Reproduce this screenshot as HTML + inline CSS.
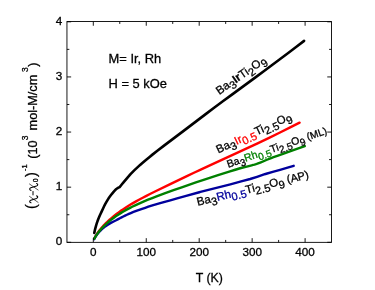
<!DOCTYPE html>
<html><head><meta charset="utf-8"><style>
html,body{margin:0;padding:0;background:#fff;}
svg{display:block;font-family:"Liberation Sans",sans-serif;}
</style></head><body>
<svg width="375" height="290" viewBox="0 0 375 290" style="will-change:transform">
<defs><filter id="gs" filterUnits="userSpaceOnUse" x="0" y="0" width="375" height="290"><feOffset dx="0" dy="0"/></filter></defs>
<rect width="375" height="290" fill="#fff"/>
<g fill="none" stroke-linecap="round" stroke-linejoin="round">
<path d="M94.28,233.04 L94.73,230.83 L95.18,228.89 L95.66,227.07 L96.23,225.08 L96.91,222.96 L97.48,221.30 L98.33,219.02 L99.04,217.27 L99.80,215.49 L100.61,213.69 L101.49,211.86 L103.07,208.42 L104.09,206.30 L104.80,204.87 L105.17,204.16 L106.30,202.14 L107.50,200.12 L108.74,198.09 L109.17,197.47 L110.05,196.29 L111.41,194.53 L112.35,193.36 L113.80,191.67 L115.83,189.44 L116.35,188.97 L117.41,188.25 L117.95,187.94 L119.62,187.11 L120.18,186.45 L121.92,184.27 L123.71,182.08 L129.42,175.43 L130.76,173.91 L134.22,170.43 L136.37,168.37 L139.32,165.62 L140.08,164.93 L142.37,162.94 L144.73,160.93 L147.14,158.92 L149.61,156.90 L152.13,154.87 L157.35,150.77 L163.72,145.89 L183.61,130.89 L206.01,113.85 L214.44,107.52 L223.18,101.03 L230.91,95.35 L255.46,77.40 L264.09,71.04 L271.45,65.57 L280.50,58.81 L288.21,53.00 L296.08,47.02 L304.10,40.87" stroke="#000" stroke-width="2.6"/>
<path d="M94.15,238.65 L94.93,237.23 L95.63,236.02 L96.38,234.80 L97.09,233.71 L97.90,232.53 L98.81,231.28 L99.81,229.96 L100.63,228.94 L101.81,227.54 L102.75,226.47 L103.75,225.38 L104.81,224.27 L105.92,223.14 L107.09,222.00 L108.31,220.86 L109.59,219.70 L110.92,218.53 L112.31,217.36 L113.75,216.18 L115.25,214.99 L116.80,213.80 L118.41,212.60 L121.21,210.60 L122.97,209.40 L124.78,208.19 L126.64,206.98 L128.56,205.78 L130.54,204.57 L132.57,203.35 L136.08,201.34 L138.99,199.72 L142.77,197.70 L145.91,196.08 L149.97,194.03 L155.04,191.54 L168.68,184.95 L186.88,176.10 L194.49,172.47 L201.25,169.31 L208.23,166.10 L226.66,157.70 L237.04,152.93 L247.82,147.92 L257.58,143.33 L269.10,137.82 L279.49,132.74 L290.19,127.43 L299.60,122.66" stroke="#ff0000" stroke-width="2.4"/>
<path d="M94.15,239.15 L94.58,238.33 L95.11,237.39 L95.72,236.41 L96.32,235.53 L97.01,234.58 L97.59,233.84 L98.45,232.80 L99.15,232.00 L100.17,230.91 L101.00,230.07 L101.89,229.23 L102.82,228.38 L103.82,227.53 L104.86,226.67 L105.22,226.40 L106.33,225.64 L107.50,224.89 L108.73,224.14 L110.00,223.40 L111.33,222.67 L113.67,221.46 L116.15,220.26 L118.25,219.09 L119.88,218.22 L121.57,217.35 L123.31,216.48 L125.10,215.61 L126.95,214.75 L128.85,213.89 L130.80,213.04 L133.49,211.97 L136.99,210.65 L139.16,209.86 L142.13,208.81 L145.20,207.77 L148.37,206.73 L149.98,206.21 L153.29,205.21 L159.31,203.45 L163.79,202.19 L170.30,200.41 L177.11,198.43 L185.25,196.13 L199.29,192.25 L200.41,191.95 L220.39,186.89 L230.38,184.33 L242.08,181.20 L250.15,179.00 L257.04,176.77 L264.07,174.45 L265.50,174.01 L272.71,171.96 L280.07,169.83 L287.58,167.62 L293.70,165.79" stroke="#00009c" stroke-width="2.4"/>
<path d="M94.15,238.77 L95.96,235.88 L96.79,234.64 L97.57,233.54 L98.45,232.36 L99.43,231.11 L100.51,229.81 L101.39,228.81 L102.64,227.44 L103.65,226.40 L104.71,225.34 L105.83,224.28 L107.42,222.84 L108.67,221.76 L109.98,220.68 L111.35,219.59 L112.77,218.51 L114.25,217.42 L115.78,216.34 L117.38,215.26 L119.02,214.18 L120.73,213.11 L122.49,212.04 L124.31,210.97 L126.18,209.92 L128.11,208.87 L130.10,207.82 L132.15,206.78 L135.68,205.07 L137.87,204.06 L140.13,203.05 L144.00,201.38 L148.04,199.73 L152.23,198.08 L156.58,196.43 L163.87,193.73 L173.54,190.22 L181.73,187.29 L188.13,185.05 L195.89,182.41 L205.14,179.36 L217.26,175.46 L230.01,171.40 L235.28,169.74 L239.31,168.52 L242.02,167.76 L244.76,167.04 L251.71,165.33 L253.12,164.95 L254.54,164.54 L255.96,164.09 L257.39,163.60 L258.83,163.07 L260.27,162.51 L267.57,159.49 L270.53,158.31 L273.52,157.19 L278.05,155.57 L291.99,150.67 L298.34,148.40 L304.80,146.05" stroke="#008000" stroke-width="2.4"/>
</g>
<g stroke="#000" stroke-width="0.9" fill="none">
<rect x="66.95" y="21.55" width="264.5" height="220.79999999999998"/>
<line x1="93.30" y1="242.35" x2="93.30" y2="238.15"/>
<line x1="93.30" y1="21.55" x2="93.30" y2="25.75"/>
<line x1="119.77" y1="242.35" x2="119.77" y2="239.95"/>
<line x1="119.77" y1="21.55" x2="119.77" y2="23.95"/>
<line x1="146.25" y1="242.35" x2="146.25" y2="238.15"/>
<line x1="146.25" y1="21.55" x2="146.25" y2="25.75"/>
<line x1="172.72" y1="242.35" x2="172.72" y2="239.95"/>
<line x1="172.72" y1="21.55" x2="172.72" y2="23.95"/>
<line x1="199.20" y1="242.35" x2="199.20" y2="238.15"/>
<line x1="199.20" y1="21.55" x2="199.20" y2="25.75"/>
<line x1="225.68" y1="242.35" x2="225.68" y2="239.95"/>
<line x1="225.68" y1="21.55" x2="225.68" y2="23.95"/>
<line x1="252.15" y1="242.35" x2="252.15" y2="238.15"/>
<line x1="252.15" y1="21.55" x2="252.15" y2="25.75"/>
<line x1="278.62" y1="242.35" x2="278.62" y2="239.95"/>
<line x1="278.62" y1="21.55" x2="278.62" y2="23.95"/>
<line x1="305.10" y1="242.35" x2="305.10" y2="238.15"/>
<line x1="305.10" y1="21.55" x2="305.10" y2="25.75"/>
<line x1="66.95" y1="242.30" x2="71.15" y2="242.30"/>
<line x1="331.45" y1="242.30" x2="327.25" y2="242.30"/>
<line x1="66.95" y1="214.74" x2="69.35000000000001" y2="214.74"/>
<line x1="331.45" y1="214.74" x2="329.05" y2="214.74"/>
<line x1="66.95" y1="187.18" x2="71.15" y2="187.18"/>
<line x1="331.45" y1="187.18" x2="327.25" y2="187.18"/>
<line x1="66.95" y1="159.61" x2="69.35000000000001" y2="159.61"/>
<line x1="331.45" y1="159.61" x2="329.05" y2="159.61"/>
<line x1="66.95" y1="132.05" x2="71.15" y2="132.05"/>
<line x1="331.45" y1="132.05" x2="327.25" y2="132.05"/>
<line x1="66.95" y1="104.49" x2="69.35000000000001" y2="104.49"/>
<line x1="331.45" y1="104.49" x2="329.05" y2="104.49"/>
<line x1="66.95" y1="76.93" x2="71.15" y2="76.93"/>
<line x1="331.45" y1="76.93" x2="327.25" y2="76.93"/>
<line x1="66.95" y1="49.36" x2="69.35000000000001" y2="49.36"/>
<line x1="331.45" y1="49.36" x2="329.05" y2="49.36"/>
<line x1="66.95" y1="21.80" x2="71.15" y2="21.80"/>
<line x1="331.45" y1="21.80" x2="327.25" y2="21.80"/>
</g>
<g filter="url(#gs)">
<g font-size="11.7" fill="#000" stroke="#000" stroke-width="0.3">
<text x="93.30" y="255.6" text-anchor="middle">0</text>
<text x="146.25" y="255.6" text-anchor="middle">100</text>
<text x="199.20" y="255.6" text-anchor="middle">200</text>
<text x="252.15" y="255.6" text-anchor="middle">300</text>
<text x="305.10" y="255.6" text-anchor="middle">400</text>
<text x="62.2" y="245.10" text-anchor="end">0</text>
<text x="62.2" y="189.98" text-anchor="end">1</text>
<text x="62.2" y="134.85" text-anchor="end">2</text>
<text x="62.2" y="79.73" text-anchor="end">3</text>
<text x="62.2" y="24.60" text-anchor="end">4</text>
</g>
<text x="108.6" y="62.8" font-size="12.9" fill="#000" stroke="#000" stroke-width="0.3">M= Ir, Rh</text>
<text x="108.6" y="88" font-size="12.9" fill="#000" stroke="#000" stroke-width="0.3">H = 5 kOe</text>
<text x="195.8" y="281.9" font-size="12.3" fill="#000" stroke="#000" stroke-width="0.3">T (K)</text>
<text transform="translate(36.9,208) rotate(-90)" font-size="12.7" fill="#000" stroke="#000" stroke-width="0.3" xml:space="preserve"><tspan x="-1.0" y="-1.3" font-size="14.5" >(</tspan><tspan x="25.7" y="0.9" font-size="7" >0</tspan><tspan x="31" y="-1.3" font-size="14.5" >)</tspan><tspan x="37" y="-9.6" font-size="7.4" >-1</tspan><tspan x="49.3" y="0" >(10</tspan><tspan x="67.8" y="-8.8" font-size="8.5" >3</tspan><tspan x="77.6" y="0" >mol-M/cm</tspan><tspan x="136" y="-8.8" font-size="8.5" >3</tspan><tspan x="141.2" y="0" >)</tspan></text>
<g transform="translate(36.9,208) rotate(-90)" fill="none" stroke="#000" stroke-linecap="round">
<g transform="translate(4.7,0)"><path d="M0.5,-5.9 C0.8,-7.5 2.5,-7.7 3.1,-6.1 L4.9,-0.4 C5.5,1.2 7.0,1.3 7.4,-0.3" stroke-width="1.1"/><path d="M6.9,-7.4 L0.9,1.2" stroke-width="0.65"/></g>
<g transform="translate(17.1,0)"><path d="M0.5,-5.9 C0.8,-7.5 2.5,-7.7 3.1,-6.1 L4.9,-0.4 C5.5,1.2 7.0,1.3 7.4,-0.3" stroke-width="1.1"/><path d="M6.9,-7.4 L0.9,1.2" stroke-width="0.65"/></g>
<path d="M12.7,-3.9 L16.9,-3.9" stroke-width="1.0" stroke-linecap="butt"/>
</g>
<g>
<text transform="translate(219.2,95) rotate(-35)" stroke-width="0.3" xml:space="preserve"><tspan fill="#000" stroke="#000" font-size="11.5">Ba</tspan><tspan fill="#000" stroke="#000" font-size="11" dy="3.50">3</tspan><tspan fill="#000" stroke="#000" font-size="11.5" font-weight="bold" dy="-3.50">Ir</tspan><tspan fill="#000" stroke="#000" font-size="11.5">Ti</tspan><tspan fill="#000" stroke="#000" font-size="11" dy="3.50">2</tspan><tspan fill="#000" stroke="#000" font-size="11.5" dy="-3.50">O</tspan><tspan fill="#000" stroke="#000" font-size="11" dy="3.50">9</tspan></text>
<text transform="translate(218.3,153.4) rotate(-25)" stroke-width="0.3" xml:space="preserve"><tspan fill="#000" stroke="#000" font-size="11.45">Ba</tspan><tspan fill="#000" stroke="#000" font-size="10.95" dy="3.50">3</tspan><tspan fill="#ff0000" stroke="#ff0000" font-size="11.45" dy="-3.50">Ir</tspan><tspan fill="#ff0000" stroke="#ff0000" font-size="10.95" dy="3.50">0.5</tspan><tspan fill="#000" stroke="#000" font-size="11.45" dy="-3.50">Ti</tspan><tspan fill="#000" stroke="#000" font-size="10.95" dy="3.50">2.5</tspan><tspan fill="#000" stroke="#000" font-size="11.45" dy="-3.50">O</tspan><tspan fill="#000" stroke="#000" font-size="10.95" dy="3.50">9</tspan></text>
<text transform="translate(228.2,167.8) rotate(-19)" stroke-width="0.3" xml:space="preserve"><tspan fill="#000" stroke="#000" font-size="10.5">Ba</tspan><tspan fill="#000" stroke="#000" font-size="10.0" dy="3.30">3</tspan><tspan fill="#008000" stroke="#008000" font-size="10.5" dy="-3.30">Rh</tspan><tspan fill="#008000" stroke="#008000" font-size="10.0" dy="3.30">0.5</tspan><tspan fill="#000" stroke="#000" font-size="10.5" dy="-3.30">Ti</tspan><tspan fill="#000" stroke="#000" font-size="10.0" dy="3.30">2.5</tspan><tspan fill="#000" stroke="#000" font-size="10.5" dy="-3.30">O</tspan><tspan fill="#000" stroke="#000" font-size="10.0" dy="3.30">9</tspan><tspan fill="#000" stroke="#000" font-size="10" dy="-3.30"> (ML)</tspan></text>
<text transform="translate(197.8,205.8) rotate(-14)" stroke-width="0.3" xml:space="preserve"><tspan fill="#000" stroke="#000" font-size="11.5">Ba</tspan><tspan fill="#000" stroke="#000" font-size="11" dy="3.50">3</tspan><tspan fill="#00009c" stroke="#00009c" font-size="11.5" dy="-3.50">Rh</tspan><tspan fill="#00009c" stroke="#00009c" font-size="11" dy="3.50">0.5</tspan><tspan fill="#000" stroke="#000" font-size="11.5" dy="-3.50">Ti</tspan><tspan fill="#000" stroke="#000" font-size="11" dy="3.50">2.5</tspan><tspan fill="#000" stroke="#000" font-size="11.5" dy="-3.50">O</tspan><tspan fill="#000" stroke="#000" font-size="11" dy="3.50">9</tspan><tspan fill="#000" stroke="#000" font-size="11.1" dy="-3.50"> (AP)</tspan></text>
</g>
</g>
</svg>
</body></html>
